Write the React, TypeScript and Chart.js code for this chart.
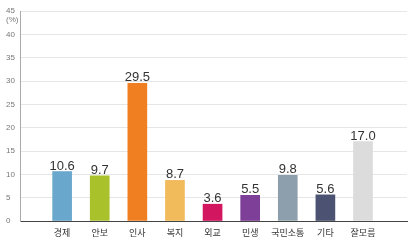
import React, { useEffect, useRef } from "react";
import { Chart, registerables } from "chart.js";

Chart.register(...registerables);

const categories = ["경제", "안보", "인사", "복지", "외교", "민생", "국민소통", "기타", "잘모름"];
const values = [10.6, 9.7, 29.5, 8.7, 3.6, 5.5, 9.8, 5.6, 17.0];
const barColors = ["#6aa7cd", "#a9c22b", "#f07f21", "#f1ba5a", "#d31660", "#7d3f98", "#8d9fad", "#4b5272", "#dcdcdc"];
const yTicks = [0, 5, 10, 15, 20, 25, 30, 35, 40, 45];
const yUnit = "(%)";

const valueLabels = {
  id: "valueLabels",
  afterDatasetsDraw(chart: any) {
    const ctx = chart.ctx;
    const meta = chart.getDatasetMeta(0);
    ctx.save();
    ctx.font = "13px 'Liberation Sans', Arial, sans-serif";
    ctx.fillStyle = "#333";
    ctx.textAlign = "center";
    ctx.textBaseline = "alphabetic";
    meta.data.forEach((bar: any, i: number) => {
      ctx.fillText(values[i].toFixed(1), bar.x, bar.y - 2);
    });
    ctx.restore();
  },
};

const unitLabel = {
  id: "unitLabel",
  afterDraw(chart: any) {
    const ctx = chart.ctx;
    const y = chart.scales.y;
    ctx.save();
    ctx.font = "8px 'Liberation Sans', Arial, sans-serif";
    ctx.fillStyle = "#777";
    ctx.textAlign = "left";
    ctx.textBaseline = "middle";
    ctx.fillText(yUnit, 6, y.getPixelForValue(45) + 9);
    ctx.restore();
  },
};

export default function App() {
  const ref = useRef<HTMLCanvasElement>(null);
  useEffect(() => {
    document.body.style.margin = "0";
    const chart = new Chart(ref.current!, {
      type: "bar",
      data: {
        datasets: [
          {
            data: values.map((v, i) => ({ x: i, y: v })),
            backgroundColor: barColors,
            barThickness: 19,
          },
        ],
      },
      options: {
        animation: false,
        responsive: false,
        maintainAspectRatio: false,
        layout: { padding: { left: 6, right: 9, top: 11, bottom: 0 } },
        plugins: { legend: { display: false }, tooltip: { enabled: false } },
        scales: {
          x: {
            type: "linear",
            offset: false,
            min: -1.12,
            max: 9.17,
            afterBuildTicks(scale: any) {
              scale.ticks = categories.map((_, i) => ({ value: i }));
            },
            afterFit(scale: any) {
              scale.height = 26;
            },
            grid: { display: false, drawTicks: false },
            border: { display: true, color: "#444", width: 1 },
            ticks: {
              padding: 6,
              autoSkip: false,
              maxRotation: 0,
              color: "#333",
              font: { size: 9, family: "'Noto Sans CJK KR', sans-serif" },
              callback: (v: any) => categories[v] ?? "",
            },
          },
          y: {
            min: 0,
            max: 45,
            afterBuildTicks(scale: any) {
              scale.ticks = yTicks.map((v) => ({ value: v }));
            },
            afterFit(scale: any) {
              scale.width = 14;
            },
            grid: { color: "#e6e6e6", lineWidth: 1, drawTicks: false },
            border: { display: true, color: "#aaa", width: 1 },
            ticks: {
              crossAlign: "far",
              padding: 0,
              color: "#777",
              font: { size: 8, family: "'Liberation Sans', Arial, sans-serif" },
            },
          },
        },
      },
      plugins: [valueLabels, unitLabel],
    });
    return () => chart.destroy();
  }, []);
  return <canvas ref={ref} width={416} height={247} style={{ display: "block" }} />;
}
